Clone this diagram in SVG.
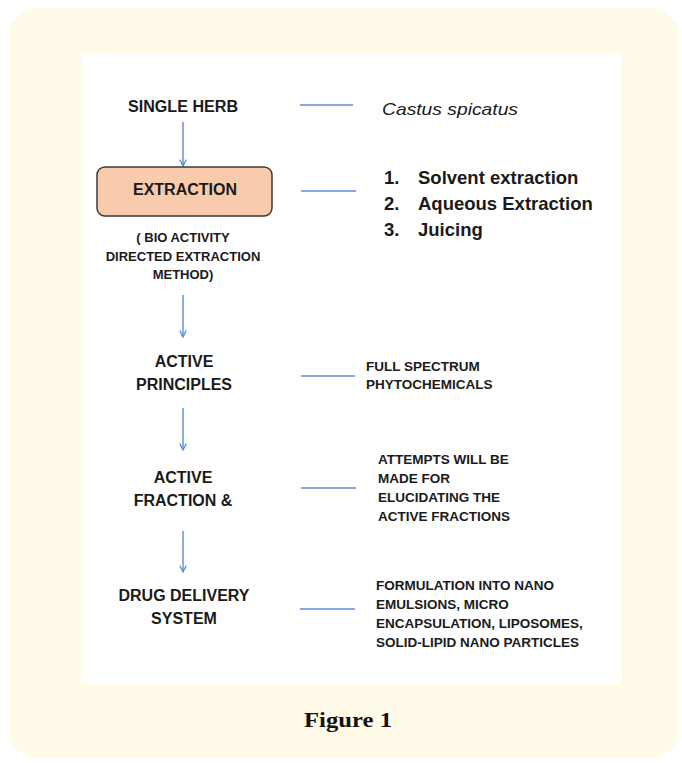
<svg xmlns="http://www.w3.org/2000/svg" width="682" height="763" viewBox="0 0 682 763">
<defs>
<marker id="ah" viewBox="0 0 10 10" refX="9" refY="5" markerWidth="8" markerHeight="8" orient="auto" markerUnits="userSpaceOnUse">
<path d="M1,1 L9,5 L1,9" fill="none" stroke="#5b8fd0" stroke-width="1.6"/>
</marker>
<style>
.t{font-family:"Liberation Sans",Arial,sans-serif;font-weight:bold;fill:#1a1a1a}
.n{font-size:16px}
.s{font-size:13.5px}
.b{font-size:13px}
.l{font-size:18.5px}
.c{text-anchor:middle}
.ln{stroke:#5b8fd0;stroke-width:1.4;fill:none}
</style>
</defs>
<rect x="9" y="8" width="670" height="750" rx="28" fill="#fffbe8"/>
<rect x="81" y="53" width="540" height="631" fill="#ffffff"/>
<g id="connectors">
<line class="ln" x1="183" y1="122" x2="183" y2="166" marker-end="url(#ah)"/>
<line class="ln" x1="183" y1="295" x2="183" y2="337" marker-end="url(#ah)"/>
<line class="ln" x1="183" y1="408" x2="183" y2="450" marker-end="url(#ah)"/>
<line class="ln" x1="183" y1="531" x2="183" y2="572" marker-end="url(#ah)"/>
<line class="ln" x1="300" y1="105" x2="353" y2="105"/>
<line class="ln" x1="301" y1="191" x2="356" y2="191"/>
<line class="ln" x1="301" y1="376" x2="355" y2="376"/>
<line class="ln" x1="301" y1="488" x2="356" y2="488"/>
<line class="ln" x1="300" y1="609" x2="355" y2="609"/>
</g>
<g id="single-herb">
<text class="t n c" x="183" y="112" textLength="110" lengthAdjust="spacingAndGlyphs">SINGLE HERB</text>
</g>
<g id="castus">
<text x="382" y="115" font-family="Liberation Sans,Arial,sans-serif" font-style="italic" font-size="17" fill="#1a1a1a" textLength="136" lengthAdjust="spacingAndGlyphs">Castus spicatus</text>
</g>
<g id="extraction">
<rect x="97" y="167" width="175" height="49" rx="8" fill="#f8cbad" stroke="#3a3a3a" stroke-width="1.5"/>
<text class="t n c" x="185" y="195">EXTRACTION</text>
</g>
<g id="methods">
<text class="t l" x="384" y="184">1.</text><text class="t l" x="418" y="184">Solvent extraction</text>
<text class="t l" x="384" y="210">2.</text><text class="t l" x="418" y="210">Aqueous Extraction</text>
<text class="t l" x="384" y="236">3.</text><text class="t l" x="418" y="236">Juicing</text>
</g>
<g id="bio-activity">
<text class="t b c" x="183" y="242">( BIO ACTIVITY</text>
<text class="t b c" x="183" y="261">DIRECTED EXTRACTION</text>
<text class="t b c" x="183" y="279">METHOD)</text>
</g>
<g id="active-principles">
<text class="t n c" x="184" y="367">ACTIVE</text>
<text class="t n c" x="184" y="390">PRINCIPLES</text>
</g>
<g id="full-spectrum">
<text class="t s" x="366" y="371">FULL SPECTRUM</text>
<text class="t s" x="366" y="389">PHYTOCHEMICALS</text>
</g>
<g id="active-fraction">
<text class="t n c" x="183" y="483">ACTIVE</text>
<text class="t n c" x="183" y="506">FRACTION &amp;</text>
</g>
<g id="attempts">
<text class="t s" x="378" y="464">ATTEMPTS WILL BE</text>
<text class="t s" x="378" y="483">MADE FOR</text>
<text class="t s" x="378" y="502">ELUCIDATING THE</text>
<text class="t s" x="378" y="521">ACTIVE FRACTIONS</text>
</g>
<g id="drug-delivery">
<text class="t n c" x="184" y="601">DRUG DELIVERY</text>
<text class="t n c" x="184" y="624">SYSTEM</text>
</g>
<g id="formulation">
<text class="t s" x="376" y="590">FORMULATION INTO NANO</text>
<text class="t s" x="376" y="609">EMULSIONS, MICRO</text>
<text class="t s" x="376" y="628">ENCAPSULATION, LIPOSOMES,</text>
<text class="t s" x="376" y="647">SOLID-LIPID NANO PARTICLES</text>
</g>
<text x="348" y="727" text-anchor="middle" font-family="Liberation Serif,'Times New Roman',serif" font-weight="bold" font-size="22" fill="#111" textLength="88" lengthAdjust="spacingAndGlyphs">Figure 1</text>
</svg>
